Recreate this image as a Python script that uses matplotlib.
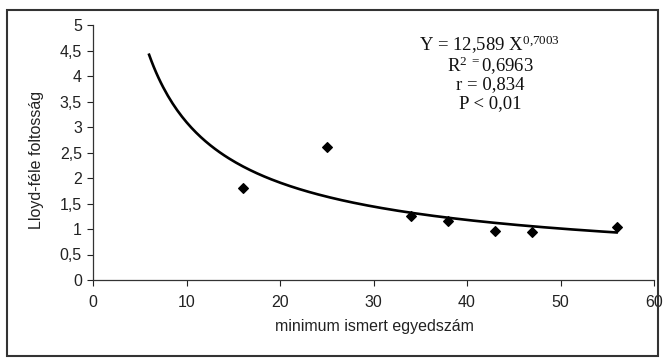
import numpy as np
import matplotlib
matplotlib.use("Agg")
import matplotlib.pyplot as plt
from matplotlib.patches import Rectangle

# data
x_vals = [16, 25, 34, 38, 43, 47, 56]
y_vals = [1.80, 2.60, 1.25, 1.15, 0.97, 0.95, 1.04]
x_ticks = [0, 10, 20, 30, 40, 50, 60]
y_ticks = [0, 0.5, 1, 1.5, 2, 2.5, 3, 3.5, 4, 4.5, 5]
y_tick_labels = ["0", "0,5", "1", "1,5", "2", "2,5", "3", "3,5", "4", "4,5", "5"]
fit_range = [6, 56]
eq_lines = ["Y = 12,589 X$^{\\mathrm{0{,}7003}}$", "R$^{\\mathrm{2\\ =}}$0,6963", "r = 0,834", "P < 0,01"]

plt.rcParams['font.family'] = ['Liberation Sans', 'DejaVu Sans']
plt.rcParams['mathtext.fontset'] = 'custom'
plt.rcParams['mathtext.rm'] = 'Liberation Serif'
plt.rcParams['mathtext.it'] = 'Liberation Serif:italic'

W, H = 664, 364
fig = plt.figure(figsize=(W / 100, H / 100), dpi=100)
fig.patch.set_facecolor('white')

# axes placement in pixels
left, right, top, bottom = 93, 654, 25, 280
ax = fig.add_axes([left / W, 1 - bottom / H, (right - left) / W, (bottom - top) / H])

ax.scatter(x_vals, y_vals, marker='D', s=24, color='black', zorder=3)

# power-law trend line fitted on the points
b, a = np.polyfit(np.log(x_vals), np.log(y_vals), 1)
xf = np.linspace(fit_range[0], fit_range[1], 200)
ax.plot(xf, np.exp(a) * xf ** b, color='black', lw=1.9)

ax.set_xlim(0, 60)
ax.set_ylim(0, 5)
ax.set_xticks(x_ticks)
ax.set_yticks(y_ticks)
ax.set_yticklabels(y_tick_labels)
ax.tick_params(direction='out', length=4, width=0.8, labelsize=11.5, colors='#222222')
ax.tick_params(axis='x', pad=7)
ax.tick_params(axis='y', pad=4)
for s in ['top', 'right']:
    ax.spines[s].set_visible(False)
for s in ['left', 'bottom']:
    ax.spines[s].set_color('#333333')
    ax.spines[s].set_linewidth(0.9)

ax.set_xlabel("minimum ismert egyedszám", fontsize=11.5, color='#222222')
ax.set_ylabel("Lloyd-féle foltosság", fontsize=11.5, color='#222222')
# label positions in axes fraction (from pixel positions)
ax.xaxis.set_label_coords((374 - left) / (right - left), (bottom - 327) / (bottom - top), transform=ax.transAxes)
ax.xaxis.label.set_va('center')
ax.yaxis.set_label_coords((37 - left) / (right - left), (bottom - 160) / (bottom - top), transform=ax.transAxes)
ax.yaxis.label.set_va('center')

ys = [45, 66, 85, 104]
for txt, yp in zip(eq_lines, ys):
    fig.text(490 / W, 1 - yp / H, txt, ha='center', va='center',
             fontsize=13.5, family='Liberation Serif', color='#111111')

fig.patches.append(Rectangle((7 / W, 1 - 356 / H), (658 - 7) / W, (356 - 10) / H,
                             transform=fig.transFigure, fill=False,
                             edgecolor='#333333', lw=1.5))

fig.savefig("out.png", dpi=100)
